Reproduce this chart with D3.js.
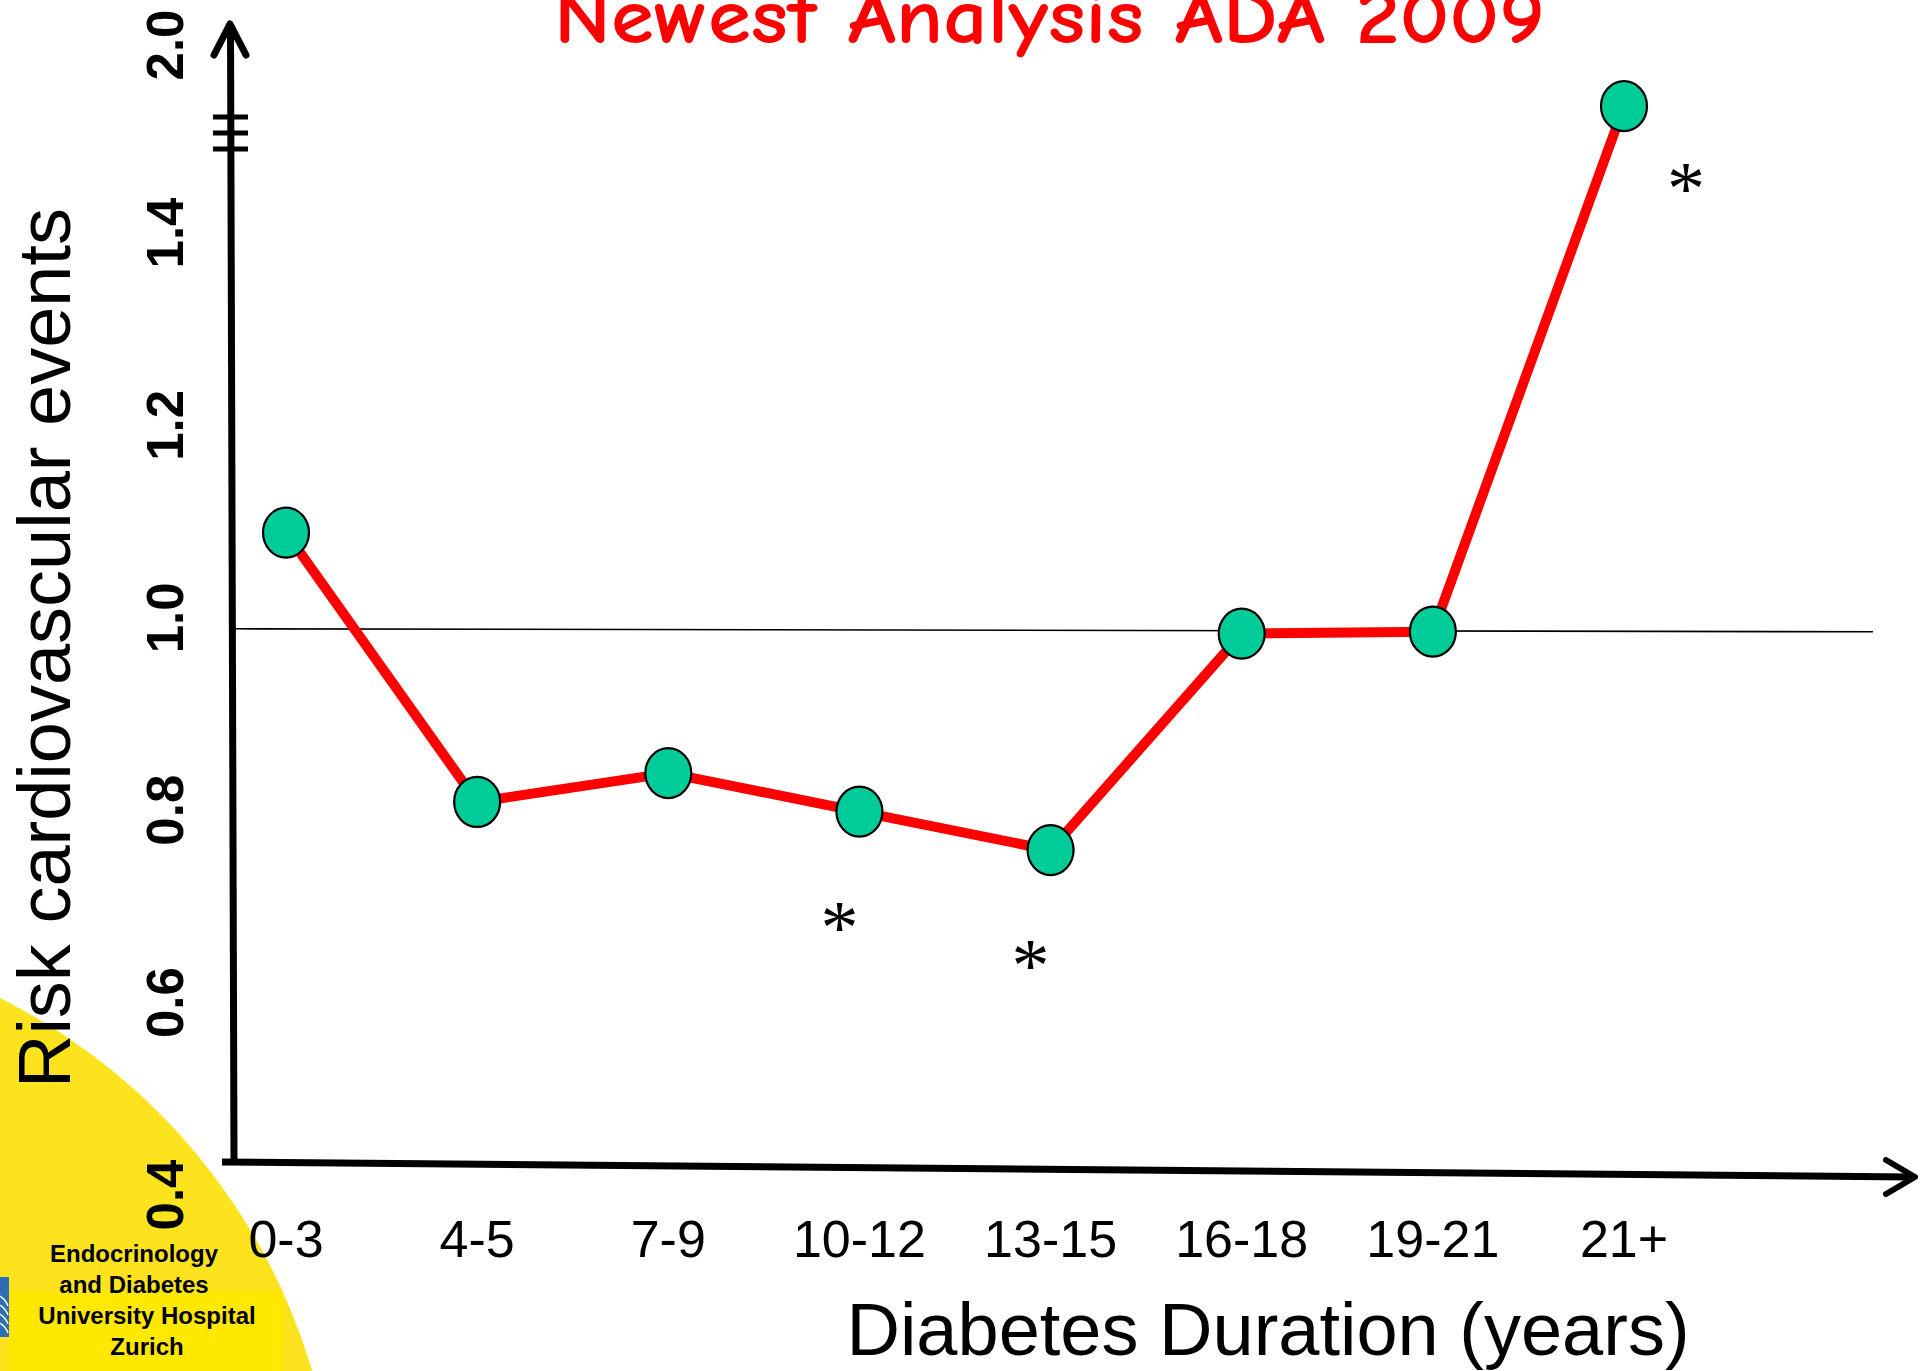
<!DOCTYPE html>
<html>
<head>
<meta charset="utf-8">
<script src="https://cdn.jsdelivr.net/npm/d3@7"></script>
<style>
  html, body { margin: 0; padding: 0; background: #ffffff; }
  svg { display: block; }
</style>
</head>
<body>
<svg id="chart" width="1920" height="1371"></svg>
<script>
// Diabetes duration groups and relative cardiovascular risk
const durations = ["0-3", "4-5", "7-9", "10-12", "13-15", "16-18", "19-21", "21+"];
const risk = [1.10, 0.82, 0.85, 0.81, 0.77, 0.995, 0.997, 1.84];
const significant = [false, false, false, true, true, false, false, true];
const yTicks = [0.4, 0.6, 0.8, 1.0, 1.2, 1.4, 2.0];
const referenceRisk = 1.0;

const titleText = "Newest Analysis ADA 2009";
const xTitle = "Diabetes Duration (years)";
const yTitle = "Risk cardiovascular events";
const logoLines = ["Endocrinology", "and Diabetes", "University Hospital", "Zurich"];

const svg = d3.select("#chart");

// Scales: categorical x, broken y (compressed above 1.4)
const x = d3.scalePoint().domain(durations).range([286, 1624]);
const y = d3.scaleLinear().domain([0.4, 1.4, 2.0]).range([1206, 244, 56]);

// Corner badge
const badge = svg.append("g");
badge.append("circle").attr("cx", -272).attr("cy", 1543).attr("r", 609).attr("fill", "#FCE31E");
badge.append("rect").attr("x", 9).attr("y", 1291).attr("width", 274).attr("height", 80).attr("fill", "#FFE800");
badge.append("rect").attr("x", 0).attr("y", 1277).attr("width", 9).attr("height", 60).attr("fill", "#2E6DB6");
[0, 1, 2, 3].forEach(i => {
  badge.append("path")
    .attr("d", `M0,${1296 + i * 9} q6,4 8,10`)
    .attr("fill", "none").attr("stroke", "#ffffff").attr("stroke-width", 1.5);
});
badge.selectAll("text.logo").data(logoLines).join("text")
  .attr("class", "logo")
  .attr("x", (d, i) => i < 2 ? 134 : 147)
  .attr("y", (d, i) => 1262 + i * 31)
  .attr("text-anchor", "middle")
  .attr("font-family", "'Liberation Sans', Arial, sans-serif")
  .attr("font-weight", "bold")
  .attr("font-size", 24)
  .attr("fill", "#000000")
  .text(d => d);

// Title
svg.append("text")
  .attr("x", 554).attr("y", 43)
  .attr("textLength", 991).attr("lengthAdjust", "spacingAndGlyphs")
  .attr("font-family", "'Comic Sans MS', 'Comic Neue', Lato, sans-serif")
  .attr("font-weight", "bold")
  .attr("font-size", 78)
  .attr("fill", "#FF0000")
  .text(titleText);

// Reference line at risk 1.0
svg.append("line")
  .attr("x1", 235).attr("x2", 1873)
  .attr("y1", y(referenceRisk)).attr("y2", y(referenceRisk) + 3)
  .attr("stroke", "#000000").attr("stroke-width", 1.6);

// Y axis with arrow and break marks
const axes = svg.append("g").attr("stroke", "#000000").attr("fill", "none")
  .attr("stroke-linecap", "round").attr("stroke-linejoin", "round");
axes.append("line").attr("x1", 230.5).attr("y1", 26).attr("x2", 234).attr("y2", 1162).attr("stroke-width", 7).attr("stroke-linecap", "butt");
axes.append("path").attr("d", "M214,55 L230,24 L246,55").attr("stroke-width", 7);
[117, 133, 149].forEach(by => {
  axes.append("line").attr("x1", 213).attr("x2", 248).attr("y1", by).attr("y2", by)
    .attr("stroke-width", 5).attr("stroke-linecap", "butt");
});

// X axis with arrow
axes.append("line").attr("x1", 222).attr("y1", 1162).attr("x2", 1912).attr("y2", 1177).attr("stroke-width", 7).attr("stroke-linecap", "butt");
axes.append("path").attr("d", "M1886,1160 L1915,1177 L1886,1194").attr("stroke-width", 6);

// Y tick labels (no tick marks)
svg.selectAll("text.ytick").data(yTicks).join("text")
  .attr("class", "ytick")
  .attr("transform", d => `translate(183,${y(d) - 11}) rotate(-90)`)
  .attr("text-anchor", "middle")
  .attr("font-family", "'Liberation Sans', Arial, sans-serif")
  .attr("font-weight", "bold")
  .attr("font-size", 51)
  .attr("fill", "#000000")
  .text(d => d.toFixed(1));

// X tick labels
svg.selectAll("text.xtick").data(durations).join("text")
  .attr("class", "xtick")
  .attr("x", d => x(d)).attr("y", 1257)
  .attr("text-anchor", "middle")
  .attr("font-family", "'Liberation Sans', Arial, sans-serif")
  .attr("font-size", 52)
  .attr("fill", "#000000")
  .text(d => d);

// Axis titles
svg.append("text")
  .attr("x", 1268).attr("y", 1355)
  .attr("text-anchor", "middle")
  .attr("font-family", "'Liberation Sans', Arial, sans-serif")
  .attr("font-size", 74)
  .attr("fill", "#000000")
  .text(xTitle);

svg.append("text")
  .attr("transform", "translate(70,648) rotate(-90)")
  .attr("text-anchor", "middle")
  .attr("font-family", "'Liberation Sans', Arial, sans-serif")
  .attr("font-size", 74)
  .attr("fill", "#000000")
  .text(yTitle);

// Risk line
const pts = durations.map((d, i) => ({ d, v: risk[i], sig: significant[i], last: i === durations.length - 1 }));
svg.append("path")
  .datum(pts)
  .attr("d", d3.line().x(p => x(p.d)).y(p => y(p.v)))
  .attr("fill", "none")
  .attr("stroke", "#FF0000")
  .attr("stroke-width", 10)
  .attr("stroke-linejoin", "round");

// Markers
svg.selectAll("ellipse.pt").data(pts).join("ellipse")
  .attr("class", "pt")
  .attr("cx", p => x(p.d)).attr("cy", p => y(p.v))
  .attr("rx", 23).attr("ry", 25)
  .attr("fill", "#00CC99")
  .attr("stroke", "#000000").attr("stroke-width", 2.2);

// Significance asterisks
svg.selectAll("text.sig").data(pts.filter(p => p.sig)).join("text")
  .attr("class", "sig")
  .attr("x", p => x(p.d) + (p.last ? 62 : -20))
  .attr("y", p => y(p.v) + (p.last ? 73 : 106) + 35)
  .attr("text-anchor", "middle")
  .attr("font-family", "'Liberation Serif', 'Times New Roman', serif")
  .attr("font-size", 76)
  .attr("fill", "#000000")
  .text("*");
</script>
</body>
</html>
